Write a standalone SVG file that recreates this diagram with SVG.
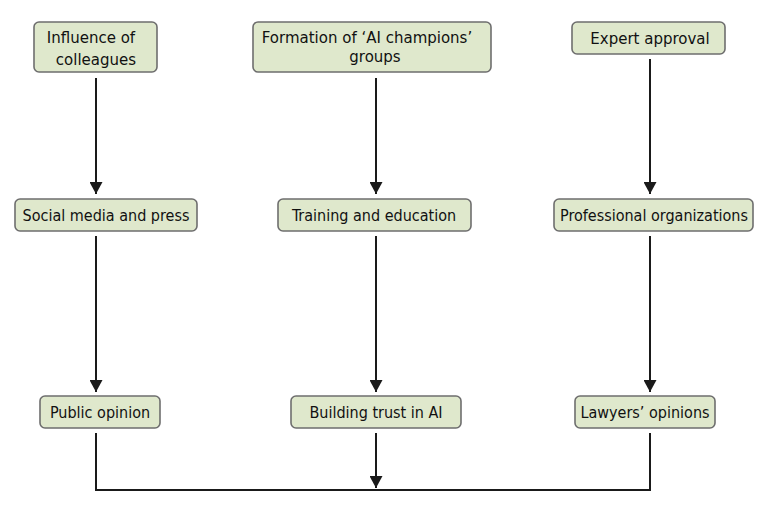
<svg xmlns="http://www.w3.org/2000/svg" width="765" height="512" viewBox="0 0 765 512">
<defs>
<style>
.box{fill:#dfe8cc;stroke:#6e6e6e;stroke-width:1.6}
.t{font-family:"DejaVu Sans","Liberation Sans",sans-serif;font-size:15px;fill:#111111;text-anchor:middle}
.c{font-family:"DejaVu Sans Condensed","DejaVu Sans",sans-serif;font-size:16px;fill:#111111;text-anchor:middle}
.ln{fill:none;stroke:#1a1a1a;stroke-width:2}
</style>
<marker id="ah" markerWidth="12" markerHeight="13" viewBox="0 0 12 13" refX="12" refY="6.5" orient="auto" markerUnits="userSpaceOnUse">
<path d="M0,0 L12,6.5 L0,13 z" fill="#1a1a1a"/>
</marker>
</defs>
<rect width="765" height="512" fill="#ffffff"/>
<g id="connectors">
<line class="ln" x1="96" y1="78" x2="96" y2="194" marker-end="url(#ah)"/>
<line class="ln" x1="376" y1="78" x2="376" y2="194" marker-end="url(#ah)"/>
<line class="ln" x1="650" y1="59" x2="650" y2="194" marker-end="url(#ah)"/>
<line class="ln" x1="96" y1="236" x2="96" y2="392" marker-end="url(#ah)"/>
<line class="ln" x1="376" y1="236" x2="376" y2="392" marker-end="url(#ah)"/>
<line class="ln" x1="650" y1="236" x2="650" y2="392" marker-end="url(#ah)"/>
<polyline class="ln" points="96,433 96,490 650,490 650,433"/>
<line class="ln" x1="376" y1="433" x2="376" y2="488" marker-end="url(#ah)"/>
</g>
<g id="n1"><rect class="box" x="34" y="22" width="123" height="50" rx="5"/><text class="t" x="91" y="43">Influence of</text><text class="t" x="96" y="65">colleagues</text></g>
<g id="n2"><rect class="box" x="253" y="22" width="238" height="50" rx="5"/><text class="t" x="367" y="43">Formation of ‘AI champions’</text><text class="t" x="375" y="62">groups</text></g>
<g id="n3"><rect class="box" x="572" y="22" width="153" height="32" rx="5"/><text class="t" x="650" y="44">Expert approval</text></g>
<g id="n4"><rect class="box" x="15" y="199" width="182" height="32" rx="5"/><text class="c" x="106" y="221">Social media and press</text></g>
<g id="n5"><rect class="box" x="278" y="199" width="193" height="32" rx="5"/><text class="c" x="374" y="221">Training and education</text></g>
<g id="n6"><rect class="box" x="554" y="199" width="199" height="32" rx="5"/><text class="c" x="654" y="221">Professional organizations</text></g>
<g id="n7"><rect class="box" x="40" y="396" width="120" height="32" rx="5"/><text class="c" x="100" y="418">Public opinion</text></g>
<g id="n8"><rect class="box" x="291" y="396" width="170" height="32" rx="5"/><text class="c" x="376" y="418">Building trust in AI</text></g>
<g id="n9"><rect class="box" x="575" y="396" width="140" height="32" rx="5"/><text class="c" x="645" y="418">Lawyers’ opinions</text></g>
</svg>
